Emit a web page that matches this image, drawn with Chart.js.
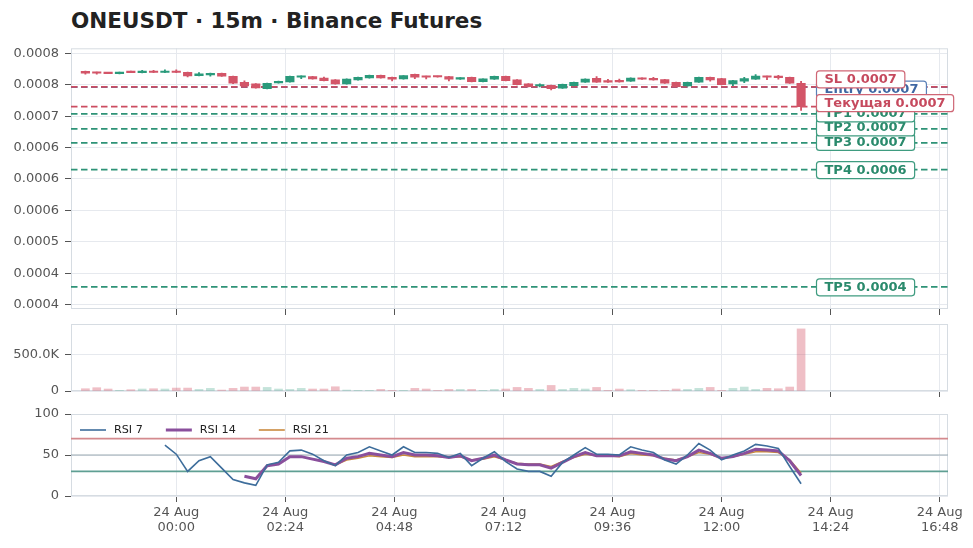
<!DOCTYPE html>
<html><head><meta charset="utf-8">
<script src="https://cdn.jsdelivr.net/npm/chart.js@4.4.1/dist/chart.umd.min.js"></script>
<style>
html,body{margin:0;padding:0;background:#fff;width:973px;height:548px;overflow:hidden;}
#title{position:absolute;left:71px;top:8px;font:bold 21.5px "DejaVu Sans";color:#222;white-space:nowrap;}
canvas{position:absolute;left:0;}
</style></head><body>
<div id="title">ONEUSDT · 15m · Binance Futures</div>
<canvas id="cPrice" width="973" height="318" style="top:0px"></canvas>
<canvas id="cVol" width="973" height="82" style="top:318px"></canvas>
<canvas id="cRsi" width="973" height="148" style="top:400px"></canvas>
<script>
// ---------------- DATA ----------------
const times = [
"23 Aug 22:00","23 Aug 22:15","23 Aug 22:30","23 Aug 22:45","23 Aug 23:00","23 Aug 23:15","23 Aug 23:30","23 Aug 23:45",
"24 Aug 00:00","24 Aug 00:15","24 Aug 00:30","24 Aug 00:45","24 Aug 01:00","24 Aug 01:15","24 Aug 01:30","24 Aug 01:45",
"24 Aug 02:00","24 Aug 02:15","24 Aug 02:30","24 Aug 02:45","24 Aug 03:00","24 Aug 03:15","24 Aug 03:30","24 Aug 03:45",
"24 Aug 04:00","24 Aug 04:15","24 Aug 04:30","24 Aug 04:45","24 Aug 05:00","24 Aug 05:15","24 Aug 05:30","24 Aug 05:45",
"24 Aug 06:00","24 Aug 06:15","24 Aug 06:30","24 Aug 06:45","24 Aug 07:00","24 Aug 07:15","24 Aug 07:30","24 Aug 07:45",
"24 Aug 08:00","24 Aug 08:15","24 Aug 08:30","24 Aug 08:45","24 Aug 09:00","24 Aug 09:15","24 Aug 09:30","24 Aug 09:45",
"24 Aug 10:00","24 Aug 10:15","24 Aug 10:30","24 Aug 10:45","24 Aug 11:00","24 Aug 11:15","24 Aug 11:30","24 Aug 11:45",
"24 Aug 12:00","24 Aug 12:15","24 Aug 12:30","24 Aug 12:45","24 Aug 13:00","24 Aug 13:15","24 Aug 13:30","24 Aug 13:45"];

const open = [0.0007714,0.0007702,0.0007687,0.0007677,0.0007714,0.0007692,0.0007714,0.0007694,0.0007714,0.0007698,0.0007644,0.0007655,0.0007682,0.0007634,0.0007539,0.0007512,
0.0007438,0.0007528,0.0007544,0.0007618,0.0007628,0.0007607,0.0007576,0.0007512,0.0007576,0.0007607,0.0007650,0.0007618,0.0007592,0.0007666,0.0007634,0.0007634,
0.0007628,0.0007586,0.0007618,0.0007549,0.0007586,0.0007634,0.0007576,0.0007512,0.0007480,0.0007491,0.0007444,0.0007486,0.0007539,0.0007602,0.0007565,0.0007560,
0.0007555,0.0007607,0.0007596,0.0007581,0.0007539,0.0007480,0.0007539,0.0007618,0.0007597,0.0007512,0.0007555,0.0007586,0.0007634,0.0007628,0.0007618,0.0007523];
const high = [0.0007718,0.0007702,0.0007690,0.0007700,0.0007716,0.0007730,0.0007730,0.0007736,0.0007736,0.0007702,0.0007692,0.0007684,0.0007686,0.0007638,0.0007560,0.0007516,
0.0007526,0.0007558,0.0007636,0.0007642,0.0007632,0.0007623,0.0007580,0.0007594,0.0007620,0.0007652,0.0007654,0.0007622,0.0007646,0.0007670,0.0007638,0.0007638,
0.0007632,0.0007614,0.0007622,0.0007594,0.0007636,0.0007638,0.0007580,0.0007516,0.0007512,0.0007495,0.0007510,0.0007542,0.0007594,0.0007628,0.0007586,0.0007591,
0.0007610,0.0007611,0.0007618,0.0007585,0.0007543,0.0007542,0.0007620,0.0007622,0.0007601,0.0007568,0.0007618,0.0007660,0.0007638,0.0007650,0.0007622,0.0007555];
const low = [0.0007666,0.0007666,0.0007674,0.0007672,0.0007690,0.0007688,0.0007690,0.0007690,0.0007690,0.0007625,0.0007640,0.0007634,0.0007630,0.0007518,0.0007476,0.0007444,
0.0007434,0.0007524,0.0007540,0.0007597,0.0007588,0.0007560,0.0007508,0.0007508,0.0007572,0.0007603,0.0007603,0.0007560,0.0007588,0.0007597,0.0007592,0.0007618,
0.0007560,0.0007582,0.0007545,0.0007545,0.0007582,0.0007561,0.0007498,0.0007466,0.0007465,0.0007417,0.0007440,0.0007482,0.0007535,0.0007535,0.0007535,0.0007540,
0.0007551,0.0007582,0.0007572,0.0007519,0.0007466,0.0007476,0.0007535,0.0007555,0.0007498,0.0007486,0.0007534,0.0007582,0.0007581,0.0007586,0.0007519,0.0007090];
const close = [0.0007682,0.0007682,0.0007677,0.0007698,0.0007692,0.0007714,0.0007694,0.0007714,0.0007694,0.0007639,0.0007671,0.0007682,0.0007634,0.0007523,0.0007480,0.0007449,
0.0007523,0.0007555,0.0007634,0.0007639,0.0007592,0.0007565,0.0007512,0.0007591,0.0007618,0.0007650,0.0007607,0.0007586,0.0007644,0.0007618,0.0007618,0.0007623,
0.0007586,0.0007612,0.0007549,0.0007592,0.0007634,0.0007565,0.0007502,0.0007470,0.0007496,0.0007438,0.0007507,0.0007539,0.0007591,0.0007539,0.0007539,0.0007544,
0.0007607,0.0007586,0.0007576,0.0007523,0.0007470,0.0007539,0.0007618,0.0007576,0.0007502,0.0007565,0.0007597,0.0007639,0.0007618,0.0007612,0.0007523,0.0007151];

const volume = [31000,45000,27000,9000,18000,27000,31000,27000,40000,40000,22000,36000,13000,36000,54000,54000,
49000,27000,22000,36000,27000,27000,58000,13000,9000,9000,22000,9000,9000,36000,27000,9000,
22000,22000,22000,9000,22000,27000,49000,36000,22000,76000,22000,36000,27000,49000,9000,27000,
18000,9000,9000,9000,27000,22000,36000,49000,9000,36000,54000,22000,36000,31000,54000,846000];

const rsi7 = [null,null,null,null,null,null,null,62,51,30,43,48,34,20,16,13,
38,41,55,56,51,43,37,50,53,60,55,50,60,53,53,52,
47,52,37,46,54,42,33,30,30,24,41,50,59,51,51,50,
60,56,53,44,39,50,64,56,44,50,55,63,61,58,36,15];
const rsi14 = [null,null,null,null,null,null,null,null,null,null,null,null,null,null,24,21,
37,39,48,48,45,42,38,46,48,52,50,48,53,50,50,49,
47,49,43,46,50,44,39,38,38,34,41,48,53,49,49,49,
54,52,50,45,43,48,56,52,46,48,52,57,56,55,43,25];
const rsi21 = [null,null,null,null,null,null,null,null,null,null,null,null,null,null,null,null,
null,null,null,null,null,42,38,44,46,49,48,47,50,48,48,48,
47,48,44,45,48,44,40,39,39,36,42,47,51,49,49,48,
52,50,49,46,44,48,53,51,46,48,51,54,54,53,44,28];

const levelNames  = ["SL","Entry","Текущая","TP1","TP2","TP3","TP4","TP5"];
const levelKinds  = ["loss","entry","loss","tp","tp","tp","tp","tp"];
const levelValues = [0.0007464,0.0007462,0.0007151,0.0007035,0.0006797,0.0006574,0.0006150,0.0004285];

const priceTickValues = [0.0004,0.00045,0.0005,0.00055,0.0006,0.00065,0.0007,0.00075,0.0008];
const priceTickLabels = ["0.0004","0.0004","0.0005","0.0006","0.0006","0.0006","0.0007","0.0008","0.0008"];
const volumeTickValues = [0,500000];
const rsiTickValues = [0,50,100];
const rsiLevels = [70,50,30];
const timeTicks = ["24 Aug 00:00","24 Aug 02:24","24 Aug 04:48","24 Aug 07:12","24 Aug 09:36","24 Aug 12:00","24 Aug 14:24","24 Aug 16:48"];
const xStart = "23 Aug 21:41", xEnd = "24 Aug 16:59";

// ---------------- STYLE / LAYOUT ----------------
const FONT = '"DejaVu Sans"';
Chart.defaults.font.family = FONT;
const RED = '#d35568', GREEN = '#2a9a7b';
const RED_V = 'rgba(214,86,104,0.38)', GREEN_V = 'rgba(42,154,123,0.28)';
const kindStyle = {
  loss:  {line:'#cc4d61', text:'#c64a5e', border:'#cf6675'},
  entry: {line:'#4a73ae', text:'#3f67a3', border:'#5a80b8'},
  tp:    {line:'#2e9377', text:'#2a8a6c', border:'#3f9c80'}
};
const labelNudge = [-8,2,-4,-1,-2,-1.5,0,0];
const labelDrawOrder = [1,7,6,5,4,3,0,2];
const GRID = '#e6e9ee', BORDER = '#d6dce2', TICKC = '#555', LABELC = '#555';
const PLOT_LEFT = 71, PAD_RIGHT = 25;

function parseT(s){ const p=s.split(' '); const hm=p[2].split(':').map(Number); return (Number(p[0])-24)*1440+hm[0]*60+hm[1]; }
const tx = times.map(parseT);
const xMin = parseT(xStart), xMax = parseT(xEnd);
const timeTickVals = timeTicks.map(parseT);
const up = close.map((c,i)=>c>=open[i]);

function xScale(showLabels, height){
  return {
    type:'linear', min:xMin, max:xMax, offset:false,
    afterBuildTicks: s => { s.ticks = timeTickVals.map(v=>({value:v})); },
    afterFit: s => { s.height = height; s.paddingLeft = 0; s.paddingRight = 0; },
    grid:{color:GRID, tickColor:TICKC, tickLength:6, lineWidth:1, offset:false},
    border:{display:false},
    ticks:{display:showLabels, autoSkip:false, maxRotation:0, padding:3.5, color:LABELC,
      font:{size:13, lineHeight:1.15},
      callback: v => { const s = timeTicks[timeTickVals.indexOf(v)]; if(!s) return ''; const k=s.lastIndexOf(' '); return [s.slice(0,k), s.slice(k+1)]; }}
  };
}
function yScale(min,max,tickVals,fmt){
  return {
    type:'linear', min, max,
    afterBuildTicks: s => { s.ticks = tickVals.map(v=>({value:v})); },
    afterFit: s => { s.width = PLOT_LEFT; s.paddingTop = 0; s.paddingBottom = 0; },
    grid:{color:GRID, tickColor:TICKC, tickLength:6, lineWidth:1},
    border:{display:false},
    ticks:{padding:6, color:LABELC, font:{size:13}, callback: fmt}
  };
}
const frame = {
  id:'frame',
  beforeDatasetsDraw(chart){
    const a=chart.chartArea, ctx=chart.ctx;
    ctx.save(); ctx.strokeStyle=BORDER; ctx.lineWidth=1;
    ctx.strokeRect(a.left+0.5, a.top+0.5, a.right-a.left-1, a.bottom-a.top-1);
    ctx.restore();
  }
};
const common = {responsive:false, animation:false, events:[],
  plugins:{legend:{display:false}, tooltip:{enabled:false}}};

// ---------------- PRICE ----------------
const levelDatasets = levelValues.map((v,i)=>({
  type:'line', label:levelNames[i],
  data:[{x:xMin,y:v},{x:xMax,y:v}],
  borderColor:kindStyle[levelKinds[i]].line, borderWidth:1.7, borderDash:[6.5,3.5],
  pointRadius:0, order: levelKinds[i]==='entry'? 4 : 3
}));
const levelLabels = {
  id:'levelLabels',
  afterDraw(chart){
    const ctx=chart.ctx, a=chart.chartArea, y=chart.scales.y;
    ctx.save();
    ctx.font = 'bold 13px '+FONT; ctx.textBaseline='middle';
    labelDrawOrder.forEach(i=>{
      const st = kindStyle[levelKinds[i]];
      const txt = levelNames[i]+' '+levelValues[i].toFixed(4);
      const w = ctx.measureText(txt).width + 16, h = 17;
      const cy = y.getPixelForValue(levelValues[i]) + labelNudge[i];
      const bx = a.right - 132, by = cy - h/2;
      ctx.beginPath(); ctx.roundRect(bx+0.5, by+0.5, w, h, 3);
      ctx.fillStyle='#fff'; ctx.fill();
      ctx.lineWidth=1.2; ctx.strokeStyle=st.border; ctx.stroke();
      ctx.fillStyle=st.text; ctx.fillText(txt, bx+8.5, cy+1);
    });
    ctx.restore();
  }
};
new Chart(document.getElementById('cPrice'), {
  type:'bar',
  data:{datasets:[
    {label:'wick', data: tx.map((t,i)=>({x:t, y:[low[i],high[i]]})),
     backgroundColor: up.map(u=>u?GREEN:RED), barThickness:1.2, grouped:false, order:1},
    {label:'body', data: tx.map((t,i)=>({x:t, y:[open[i],close[i]]})),
     backgroundColor: up.map(u=>u?GREEN:RED), barThickness:8.5, minBarLength:1.5, grouped:false, order:0},
    ...levelDatasets
  ]},
  options:{...common,
    layout:{padding:{top:48.3, right:PAD_RIGHT, left:0, bottom:0}},
    scales:{
      x: xScale(false, 9),
      y: yScale(0.0003932, 0.0008079, priceTickValues, v => priceTickLabels[priceTickValues.indexOf(v)] ?? '')
    }},
  plugins:[frame, levelLabels]
});

// ---------------- VOLUME ----------------
function fmtVol(v){ if(v>=1e6) return (v/1e6).toFixed(1)+'M'; if(v>=1e3) return (v/1e3).toFixed(1)+'K'; return String(v); }
new Chart(document.getElementById('cVol'), {
  type:'bar',
  data:{datasets:[{label:'Volume', data: tx.map((t,i)=>({x:t, y:volume[i]})),
    backgroundColor: up.map(u=>u?GREEN_V:RED_V), barThickness:8, grouped:false}]},
  options:{...common,
    layout:{padding:{top:6, right:PAD_RIGHT, left:0, bottom:0}},
    scales:{ x: xScale(false, 9), y: yScale(0, 913000, volumeTickValues, fmtVol) }},
  plugins:[frame]
});

// ---------------- RSI ----------------
const rsiGuides = {
  id:'rsiGuides',
  beforeDatasetsDraw(chart){
    const ctx=chart.ctx, a=chart.chartArea, y=chart.scales.y;
    const cols = ['#d48a8e','#9aa9b1','#5f9f93'], widths=[1.6,1.2,1.8];
    ctx.save();
    rsiLevels.forEach((lv,i)=>{
      const py = y.getPixelForValue(lv);
      ctx.strokeStyle=cols[i]; ctx.lineWidth=widths[i];
      ctx.beginPath(); ctx.moveTo(a.left,py); ctx.lineTo(a.right,py); ctx.stroke();
    });
    ctx.restore();
  }
};
const rsiLegend = {
  id:'rsiLegend',
  afterDatasetsDraw(chart){
    const ctx=chart.ctx, a=chart.chartArea;
    let x=a.left+9; const y=a.top+16;
    ctx.save(); ctx.font='11.2px '+FONT; ctx.textBaseline='middle';
    chart.data.datasets.forEach(ds=>{
      ctx.strokeStyle=ds.borderColor; ctx.lineWidth=ds.borderWidth;
      ctx.beginPath(); ctx.moveTo(x,y); ctx.lineTo(x+26,y); ctx.stroke();
      x+=34; ctx.fillStyle='#222'; ctx.fillText(ds.label,x,y+0.5);
      x+=ctx.measureText(ds.label).width+23;
    });
    ctx.restore();
  }
};
function rsiSet(label, arr, color, width){
  return {type:'line', label, data: tx.map((t,i)=>({x:t, y:arr[i]})),
    borderColor:color, borderWidth:width, pointRadius:0, tension:0, spanGaps:false};
}
new Chart(document.getElementById('cRsi'), {
  type:'line',
  data:{datasets:[
    rsiSet('RSI 7', rsi7, '#3d6d9b', 1.6),
    rsiSet('RSI 14', rsi14, '#8a4f9c', 3),
    rsiSet('RSI 21', rsi21, '#c98a3e', 1.6)
  ]},
  options:{...common,
    layout:{padding:{top:14, right:PAD_RIGHT, left:0, bottom:0}},
    scales:{ x: xScale(true, 52), y: yScale(0, 100, rsiTickValues, v => String(v)) }},
  plugins:[frame, rsiGuides, rsiLegend]
});
</script>
</body></html>
